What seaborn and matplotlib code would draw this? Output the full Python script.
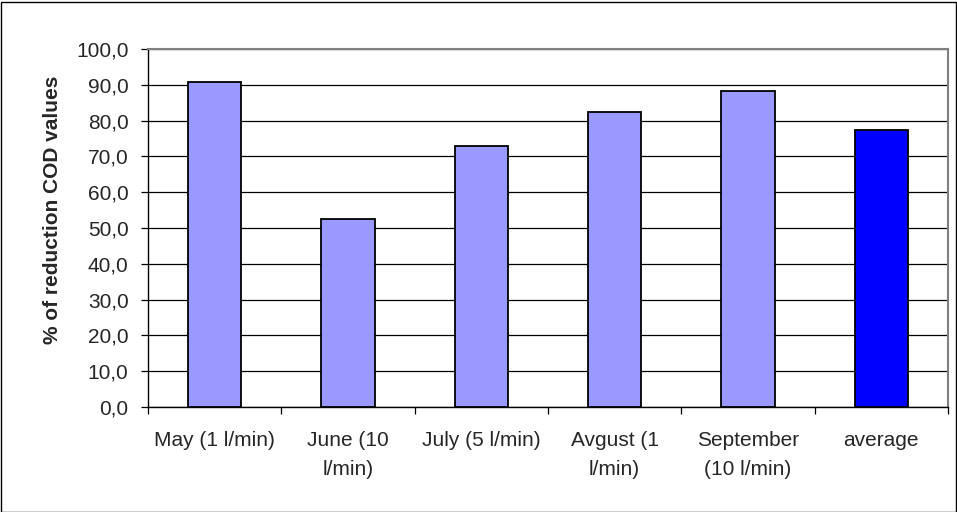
import matplotlib
matplotlib.use("Agg")
import matplotlib.pyplot as plt
import seaborn as sns
import pandas as pd
from matplotlib.patches import Rectangle
from matplotlib.ticker import FixedLocator

categories = ["May (1 l/min)", "June (10\nl/min)", "July (5 l/min)",
              "Avgust (1\nl/min)", "September\n(10 l/min)", "average"]
reduction = [90.7, 52.6, 73.0, 82.4, 88.3, 77.4]
bar_colors = ["#9999FF", "#9999FF", "#9999FF", "#9999FF", "#9999FF", "#0000FF"]
y_ticks = [0, 10, 20, 30, 40, 50, 60, 70, 80, 90, 100]

sns.set_style("white")
plt.rcParams["font.family"] = ["Liberation Sans", "DejaVu Sans"]

df = pd.DataFrame({"month": categories, "value": reduction})

fig = plt.figure(figsize=(9.57, 5.12), dpi=100)
ax = fig.add_axes([148 / 957, 1 - 407 / 512, 800 / 957, 358 / 512])

sns.barplot(data=df, x="month", y="value", hue="month",
            palette=dict(zip(categories, bar_colors)), legend=False,
            saturation=1, width=0.4, edgecolor="black", linewidth=1.3,
            ax=ax, zorder=3)

ax.set_xlim(-0.5, len(categories) - 0.5)
ax.set_ylim(0, 100)
ax.set_yticks(y_ticks)
ax.set_yticklabels([f"{v:.1f}".replace(".", ",") for v in y_ticks], fontsize=15)
ax.yaxis.grid(True, color="black", linewidth=0.9, zorder=0)
ax.set_axisbelow(True)

# category labels centred, tick marks on the boundaries between categories
ax.tick_params(axis="x", which="major", length=0, labelsize=15, pad=17)
for lbl in ax.get_xticklabels():
    lbl.set_linespacing(1.7)
ax.xaxis.set_minor_locator(FixedLocator([i - 0.5 for i in range(len(categories) + 1)]))
ax.tick_params(axis="x", which="minor", length=5, width=0.9, color="black",
               direction="out", bottom=True)
ax.tick_params(axis="y", length=5, width=0.9, color="black", direction="out",
               left=True, labelsize=15, pad=9)

for side in ("left", "bottom"):
    ax.spines[side].set_color("black")
    ax.spines[side].set_linewidth(1.0)
for side in ("top", "right"):
    ax.spines[side].set_color("#808080")
    ax.spines[side].set_linewidth(1.5)

ax.set_xlabel("")
ax.set_ylabel("% of reduction COD values", fontsize=15, fontweight="bold")
ax.yaxis.set_label_coords(-0.108, 0.55)

fig.patches.append(Rectangle((0.5 / 957, 0.5 / 512), 955 / 957, 510 / 512,
                             transform=fig.transFigure, fill=False,
                             edgecolor="black", linewidth=1.0))

fig.savefig("out.png", dpi=100)
